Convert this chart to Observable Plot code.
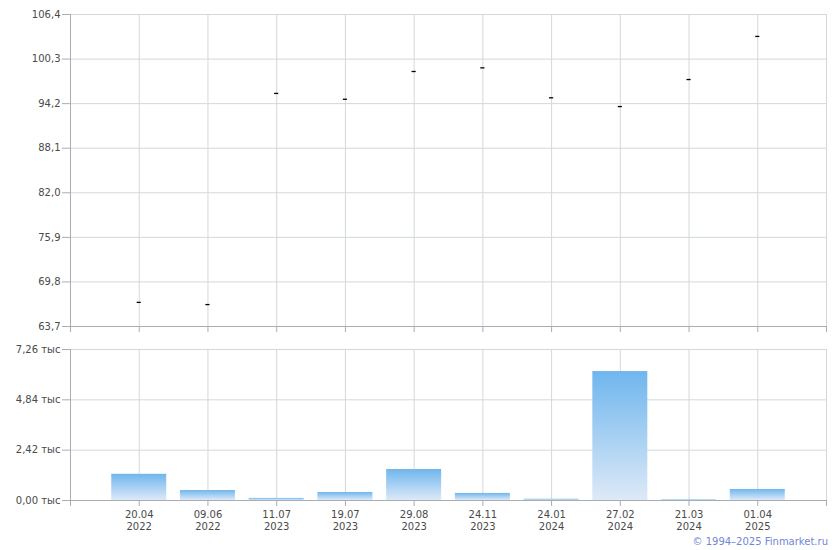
<!DOCTYPE html>
<html><head><meta charset="utf-8">
<script src="https://cdn.jsdelivr.net/npm/d3@7"></script>
<script src="https://cdn.jsdelivr.net/npm/@observablehq/plot@0.6"></script>
<style>
body{margin:0;background:#fff;font-family:"DejaVu Sans",Verdana,sans-serif;}
#wrap{position:relative;width:840px;height:550px;overflow:hidden;}
#topchart{position:absolute;left:0;top:0;}
#botchart{position:absolute;left:0;top:340px;}
#copy{position:absolute;right:12px;top:536px;font-size:10px;color:#6f86d6;font-family:"DejaVu Sans",Verdana,sans-serif;}
</style></head><body>
<div id="wrap"><div id="topchart"></div><div id="botchart"></div><div id="copy">© 1994–2025 Finmarket.ru</div></div>
<script>
const dates = ["20.04\n2022","09.06\n2022","11.07\n2023","19.07\n2023","29.08\n2023","24.11\n2023","24.01\n2024","27.02\n2024","21.03\n2024","01.04\n2025"];
const prices = [67.0, 66.7, 95.6, 94.8, 98.6, 99.1, 95.0, 93.8, 97.5, 103.4];
const volumes = [1260, 480, 100, 385, 1490, 340, 60, 6200, 25, 530];
const priceTicks = [63.7, 69.8, 75.9, 82.0, 88.1, 94.2, 100.3, 106.4];
const volumeTicks = [0, 2420, 4840, 7260];

const rows = dates.map((d, k) => ({i: k + 1, date: d, price: prices[k], vol: volumes[k]}));
const slots = d3.range(0, dates.length + 2); // 0 .. 11
const gridCol = "#d3d8dc", axisCol = "#a8adb3", textCol = "#4a4a4a";
const chartStyle = {fontFamily: '"DejaVu Sans", Verdana, sans-serif', fontSize: "10px", color: textCol, background: "transparent"};

const priceChart = Plot.plot({
  width: 840, height: 340,
  marginLeft: 70, marginRight: 14, marginTop: 14, marginBottom: 14,
  style: chartStyle,
  x: {domain: [0, dates.length + 1], axis: null},
  y: {domain: [priceTicks[0], priceTicks[priceTicks.length - 1]], axis: null},
  marks: [
    Plot.gridY(priceTicks, {stroke: gridCol, strokeOpacity: 1}),
    Plot.gridX(slots.slice(1), {stroke: gridCol, strokeOpacity: 1}),
    Plot.axisY(priceTicks, {tickSize: 8, tickPadding: 2, stroke: axisCol, fill: textCol, label: null,
      tickFormat: d => d.toFixed(1).replace(".", ",")}),
    Plot.axisX(slots, {tickSize: 6, stroke: axisCol, label: null, tickFormat: () => ""}),
    Plot.ruleX([0], {stroke: axisCol}),
    Plot.ruleY([priceTicks[0]], {stroke: axisCol}),
    Plot.ruleY(rows, {y: "price", x1: d => d.i - 0.03, x2: d => d.i + 0.03, stroke: "#000", strokeWidth: 1.3})
  ]
});
document.getElementById("topchart").append(priceChart);

function gradientDefs() {
  const ns = "http://www.w3.org/2000/svg";
  const defs = document.createElementNS(ns, "defs");
  const g = document.createElementNS(ns, "linearGradient");
  g.setAttribute("id", "volgrad");
  g.setAttribute("x1", "0"); g.setAttribute("y1", "0");
  g.setAttribute("x2", "0"); g.setAttribute("y2", "1");
  [["0%", "#6fb6ee"], ["100%", "#dde9f7"]].forEach(([o, c]) => {
    const s = document.createElementNS(ns, "stop");
    s.setAttribute("offset", o); s.setAttribute("stop-color", c);
    g.append(s);
  });
  defs.append(g);
  return defs;
}

const volumeChart = Plot.plot({
  width: 840, height: 200,
  marginLeft: 70, marginRight: 14, marginTop: 9, marginBottom: 40,
  style: chartStyle,
  x: {domain: [0, dates.length + 1], axis: null},
  y: {domain: [volumeTicks[0], volumeTicks[volumeTicks.length - 1]], axis: null},
  marks: [
    gradientDefs,
    Plot.gridY(volumeTicks, {stroke: gridCol, strokeOpacity: 1}),
    Plot.gridX(slots.slice(1), {stroke: gridCol, strokeOpacity: 1}),
    Plot.rectY(rows, {x1: d => d.i - 0.4, x2: d => d.i + 0.4, y: "vol", fill: "url(#volgrad)"}),
    Plot.axisY(volumeTicks, {tickSize: 8, tickPadding: 2, stroke: axisCol, fill: textCol, label: null,
      tickFormat: d => (d / 1000).toFixed(2).replace(".", ",") + " тыс"}),
    Plot.axisX(slots, {tickSize: 6, tickPadding: 3, stroke: axisCol, fill: textCol, lineHeight: 1.2, label: null,
      tickFormat: i => (i >= 1 && i <= dates.length) ? dates[i - 1] : ""}),
    Plot.ruleX([0], {stroke: axisCol}),
    Plot.ruleY([0], {stroke: axisCol})
  ]
});
document.getElementById("botchart").append(volumeChart);
</script>
</body></html>
